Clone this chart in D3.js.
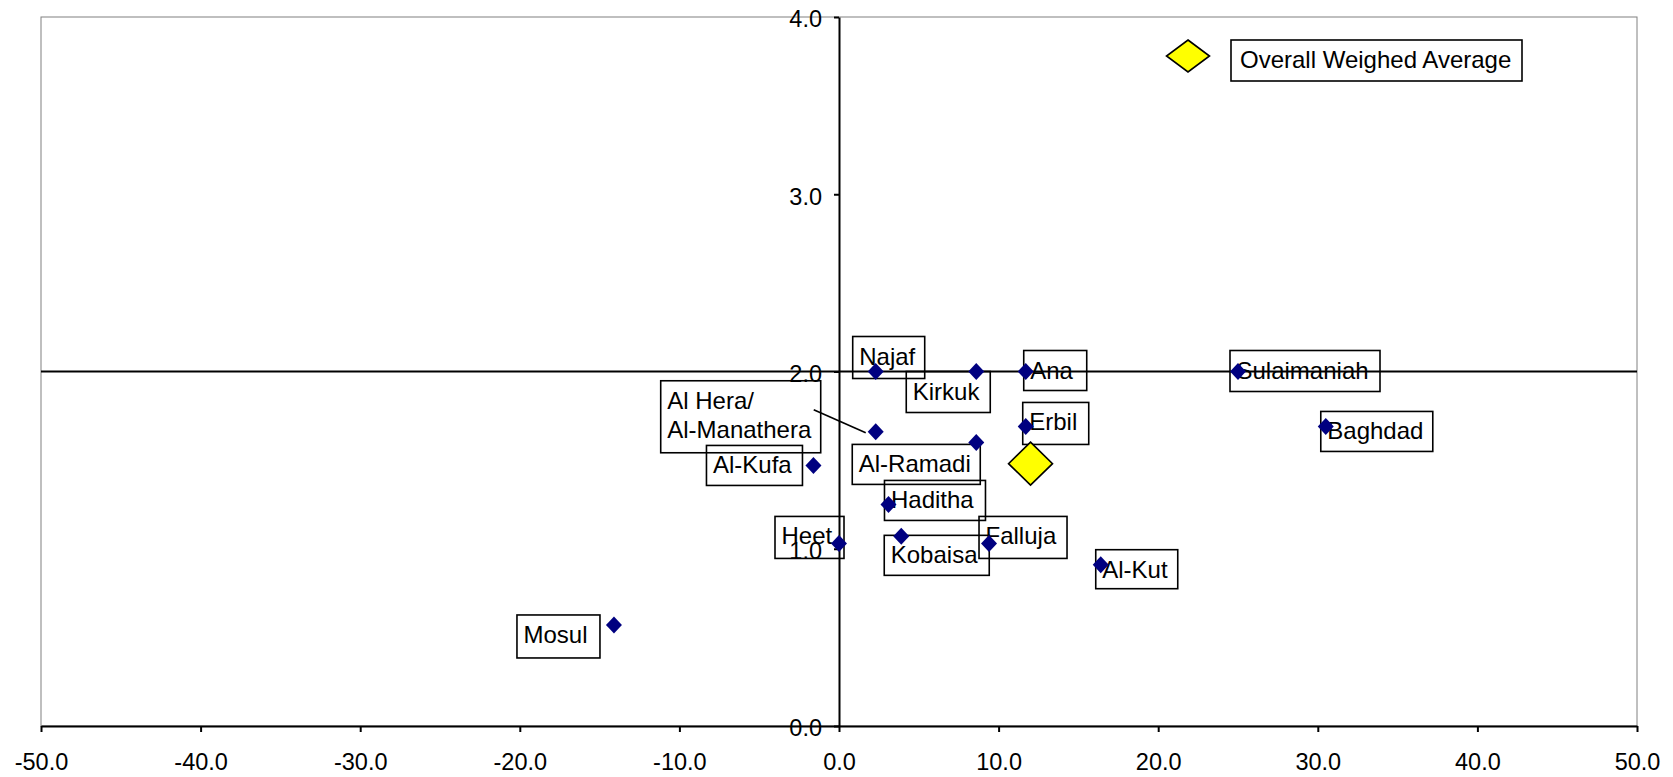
<!DOCTYPE html>
<html>
<head>
<meta charset="utf-8">
<script src="https://cdn.jsdelivr.net/npm/d3@7"></script>
<style>
  html, body { margin: 0; padding: 0; background: #fff; }
  svg { display: block; }
  text { font-family: "Liberation Sans", Arial, sans-serif; fill: #000; }
</style>
</head>
<body>
<svg id="chart" width="1673" height="777"></svg>
<script>
// ---- data ----
const cities = ["Najaf", "Kirkuk", "Ana", "Al Hera/\nAl-Manathera", "Erbil", "Al-Ramadi", "Al-Kufa",
  "Haditha", "Kobaisa", "Falluja", "Heet", "Al-Kut", "Mosul", "Sulaimaniah", "Baghdad"];
const xValues = [2.3, 8.6, 11.7, 2.3, 11.7, 8.6, -1.6, 3.1, 3.9, 9.4, 0.0, 16.4, -14.1, 25.0, 30.5];
const yValues = [2.0, 2.0, 2.0, 1.66, 1.69, 1.6, 1.47, 1.25, 1.07, 1.03, 1.03, 0.91, 0.57, 2.0, 1.69];
const averageName = "Overall Weighed Average";
const averageX = [12.0];
const averageY = [1.48];
const xTicks = [-50, -40, -30, -20, -10, 0, 10, 20, 30, 40, 50];
const yTicks = [0, 1, 2, 3, 4];
const crossLineY = 2.0;

// ---- layout (label box offsets from point, in px) ----
const labelLayout = {
  "Najaf": [-23, -35, 72, 42],
  "Kirkuk": [-70, 0, 84, 41],
  "Ana": [-2, -21, 63, 40],
  "Al Hera/\nAl-Manathera": [-215, -51, 160, 72],
  "Erbil": [-3, -24, 66, 42],
  "Al-Ramadi": [-124, 2, 128, 40],
  "Al-Kufa": [-107, -20, 96, 40],
  "Haditha": [-4, -24, 101, 40],
  "Kobaisa": [-17, -1, 105, 40],
  "Falluja": [-10, -27, 88, 42],
  "Heet": [-64, -27, 69, 42],
  "Al-Kut": [-5, -15, 82, 39],
  "Mosul": [-97, -10, 83, 43],
  "Sulaimaniah": [-8, -21, 150, 41],
  "Baghdad": [-5, -15, 112, 40]
};
const leader = { "Al Hera/\nAl-Manathera": [[-62, -22], [-10, 1]] };

const svg = d3.select("#chart");
const plotLeft = 41, plotRight = 1637, plotTop = 17, plotBottom = 726;

const x = d3.scaleLinear().domain([-50, 50]).range([plotLeft, plotRight]);
const y = d3.scaleLinear().domain([0, 4]).range([plotBottom, plotTop]);

const fmt = d3.formatLocale({ decimal: ".", thousands: ",", grouping: [3], currency: ["", ""], minus: "-" }).format(".1f");

// plot border (gray)
svg.append("rect")
  .attr("x", plotLeft).attr("y", plotTop)
  .attr("width", plotRight - plotLeft).attr("height", plotBottom - plotTop)
  .attr("fill", "none").attr("stroke", "#808080").attr("stroke-width", 1);

// x axis at bottom
const xAxis = d3.axisBottom(x).tickValues(xTicks).tickFormat(fmt)
  .tickSize(6).tickSizeOuter(0).tickPadding(21);
const gx = svg.append("g").attr("transform", `translate(0,${plotBottom})`).call(xAxis);
gx.select(".domain").attr("stroke", "#000").attr("stroke-width", 2);
gx.selectAll(".tick line").attr("stroke", "#000").attr("stroke-width", 2);
gx.selectAll("text").attr("font-size", 23.5).attr("font-family", "Liberation Sans, Arial, sans-serif").attr("fill", "#000");

// y axis at x = 0
const yAxis = d3.axisLeft(y).tickValues(yTicks).tickFormat(fmt)
  .tickSize(5).tickSizeOuter(0).tickPadding(12);
const gy = svg.append("g").attr("transform", `translate(${x(0)},0)`).call(yAxis);
gy.select(".domain").attr("stroke", "#000").attr("stroke-width", 2);
gy.selectAll(".tick line").attr("stroke", "#000").attr("stroke-width", 2);
gy.selectAll("text").attr("font-size", 23.5).attr("dy", "0.42em")
  .attr("font-family", "Liberation Sans, Arial, sans-serif").attr("fill", "#000");

// horizontal cross line
svg.append("line")
  .attr("x1", plotLeft).attr("x2", plotRight)
  .attr("y1", y(crossLineY)).attr("y2", y(crossLineY))
  .attr("stroke", "#000").attr("stroke-width", 2);

const diamond = (hw, hh) => `M0,${-hh}L${hw},0L0,${hh}L${-hw},0Z`;

const pts = cities.map((c, i) => ({ name: c, x: xValues[i], y: yValues[i] }));

// label boxes
const lab = svg.append("g").selectAll("g").data(pts).join("g")
  .attr("transform", d => `translate(${x(d.x)},${y(d.y)})`);
lab.append("rect")
  .attr("x", d => labelLayout[d.name][0]).attr("y", d => labelLayout[d.name][1])
  .attr("width", d => labelLayout[d.name][2]).attr("height", d => labelLayout[d.name][3])
  .attr("fill", "none").attr("stroke", "#000").attr("stroke-width", 1.6);
lab.each(function(d) {
  const g = d3.select(this);
  const L = labelLayout[d.name];
  const lines = d.name.split("\n");
  lines.forEach((t, k) => {
    g.append("text")
      .attr("x", L[0] + 6.5).attr("y", L[1] + 28 + k * 29.5)
      .attr("font-size", 24).text(t);
  });
  if (leader[d.name]) {
    const p = leader[d.name];
    g.append("line").attr("x1", p[0][0]).attr("y1", p[0][1])
      .attr("x2", p[1][0]).attr("y2", p[1][1])
      .attr("stroke", "#000").attr("stroke-width", 1.6);
  }
});

// city markers
svg.append("g").selectAll("path").data(pts).join("path")
  .attr("transform", d => `translate(${x(d.x)},${y(d.y)})`)
  .attr("d", diamond(8, 8.5))
  .attr("fill", "#000080");

// overall average marker
svg.append("g").selectAll("path").data(averageX.map((v, i) => ({ x: v, y: averageY[i] }))).join("path")
  .attr("transform", d => `translate(${x(d.x)},${y(d.y)})`)
  .attr("d", diamond(22, 21.5))
  .attr("fill", "#FFFF00").attr("stroke", "#000").attr("stroke-width", 1.6);

// legend
const lg = svg.append("g").attr("transform", "translate(1188,56)");
lg.append("path").attr("d", diamond(21.5, 16)).attr("fill", "#FFFF00")
  .attr("stroke", "#000").attr("stroke-width", 1.6);
lg.append("rect").attr("x", 43).attr("y", -16).attr("width", 291).attr("height", 41)
  .attr("fill", "none").attr("stroke", "#000").attr("stroke-width", 1.6);
lg.append("text").attr("x", 52).attr("y", 12).attr("font-size", 24).text(averageName);
</script>
</body>
</html>
